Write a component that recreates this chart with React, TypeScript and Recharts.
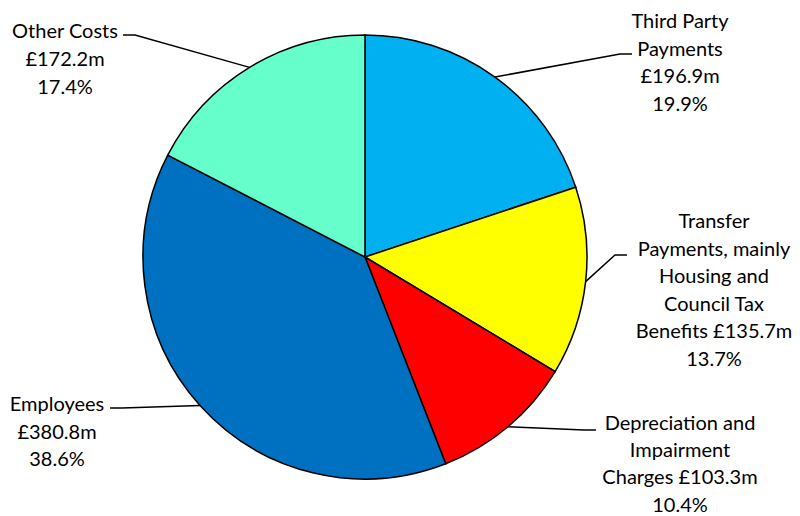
import { PieChart, Pie, Cell } from "recharts";

const CATEGORIES = [
  "Third Party Payments",
  "Transfer Payments, mainly Housing and Council Tax Benefits",
  "Depreciation and Impairment Charges",
  "Employees",
  "Other Costs",
];
const AMOUNTS = [196.9, 135.7, 103.3, 380.8, 172.2]; // £m
const SHARES = ["19.9%", "13.7%", "10.4%", "38.6%", "17.4%"];
const COLORS = ["#00B0F0", "#FFFF00", "#FF0000", "#0070C0", "#66FFCC"];

// how each label wraps in the original
const LABEL_LINES = [
  ["Third Party", "Payments", "£196.9m", "19.9%"],
  ["Transfer", "Payments, mainly", "Housing and", "Council Tax", "Benefits £135.7m", "13.7%"],
  ["Depreciation and", "Impairment", "Charges £103.3m", "10.4%"],
  ["Employees", "£380.8m", "38.6%"],
  ["Other Costs", "£172.2m", "17.4%"],
];

// label placement: text centre / first line, leader elbow and end
const LABEL_LAYOUT = [
  { tx: 680, ty: 20, lh: 27.7, elbow: [620, 54], end: [632, 54] },
  { tx: 714, ty: 220, lh: 27.5, elbow: [615, 255], end: [627, 255] },
  { tx: 680, ty: 422, lh: 27.2, elbow: [584, 430], end: [596, 430] },
  { tx: 57, ty: 403, lh: 27.5, elbow: [122, 408], end: [110, 408] },
  { tx: 65, ty: 30, lh: 28, elbow: [135, 35], end: [123, 35] },
];

const data = CATEGORIES.map((name, i) => ({ name, value: AMOUNTS[i], share: SHARES[i] }));

const RAD = Math.PI / 180;

function renderLabel(props: any) {
  const { cx, cy, midAngle, outerRadius, index } = props;
  const lay = LABEL_LAYOUT[index];
  const ex = cx + outerRadius * Math.cos(-midAngle * RAD);
  const ey = cy + outerRadius * Math.sin(-midAngle * RAD);
  const pts = `${ex},${ey} ${lay.elbow[0]},${lay.elbow[1]} ${lay.end[0]},${lay.end[1]}`;
  return (
    <g key={`lbl-${index}`}>
      <polyline points={pts} fill="none" stroke="#000" strokeWidth={1.5} />
      {LABEL_LINES[index].map((line, j) => (
        <text
          key={j}
          x={lay.tx}
          y={lay.ty + j * lay.lh}
          textAnchor="middle"
          dominantBaseline="central"
          fill="#000"
          fontSize={20}
          fontFamily="Lato, 'Noto Sans', sans-serif"
        >
          {line}
        </text>
      ))}
    </g>
  );
}

export default function App() {
  return (
    <div style={{ position: "absolute", left: 0, top: 0, background: "#fff" }}>
      <PieChart width={800} height={516} margin={{ top: 0, right: 0, bottom: 0, left: 0 }}>
        <Pie
          data={data}
          dataKey="value"
          nameKey="name"
          cx={365}
          cy={257}
          outerRadius={222}
          startAngle={90}
          endAngle={-270}
          stroke="#000"
          strokeWidth={1.5}
          labelLine={false}
          label={renderLabel}
          isAnimationActive={false}
        >
          {data.map((d, i) => (
            <Cell key={d.name} fill={COLORS[i]} />
          ))}
        </Pie>
      </PieChart>
    </div>
  );
}
